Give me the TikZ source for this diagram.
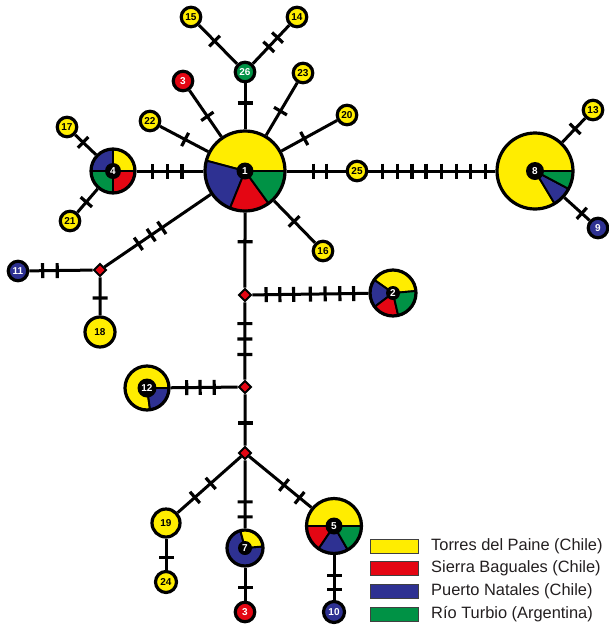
\documentclass[tikz,border=0pt]{standalone}
\usepackage{fontspec}
\setmainfont{Liberation Sans}
\usetikzlibrary{backgrounds,decorations.markings}
\definecolor{cY}{RGB}{255,237,0}
\definecolor{cR}{RGB}{228,6,19}
\definecolor{cB}{RGB}{46,49,146}
\definecolor{cG}{RGB}{0,146,69}
\definecolor{cT}{RGB}{35,31,32}
\newcommand\hapslice[5]{\filldraw[fill=#5,draw=black,line width=1.9pt,line join=round] (#1.center) -- ++({-(#3)}:#2) arc[start angle={-(#3)},end angle={-(#4)},radius=#2] -- cycle;}
\newcommand\hapring[2]{\draw[line width=3.2pt] (#1.center) circle[radius=#2];}
\tikzset{
  hap/.style={circle,draw=black,line width=3.2pt,inner sep=0pt,minimum size=19.5,font=\bfseries\fontsize{10}{10}\selectfont},
  hapY/.style={hap,fill=cY,text=black},
  hapR/.style={hap,fill=cR,text=white},
  hapB/.style={hap,fill=cB,text=white},
  hapG/.style={hap,fill=cG,text=white},
  piebase/.style={circle,line width=3.2pt,inner sep=0pt},
  lab/.style={circle,fill=black,text=white,inner sep=0pt,minimum size=16,font=\bfseries\fontsize{10}{10}\selectfont},
  dia/.style={rectangle,draw=black,fill=cR,line width=2pt,rotate=45,minimum size=8.5,inner sep=0pt},
  edge/.style={line width=3pt,draw=black},
  tk/.style={postaction={decorate,decoration={markings,mark=at position #1 with {\draw[line width=3.2pt] (0,-7.5) -- (0,7.5);}}}},
  legbox/.style={rectangle,draw=black!75,line width=0.8pt,minimum width=48,minimum height=14,inner sep=0pt},
  legtxt/.style={anchor=west,inner sep=0pt,text=cT,font=\fontsize{16.4}{18}\selectfont}
}
\begin{document}
\begin{tikzpicture}[x=1pt,y=-1pt]
\useasboundingbox (0,0) rectangle (609,625);
% pie nodes
\node[piebase,minimum size=80] (n1) at (245,171) {};
\hapslice{n1}{40}{0}{165}{cY}
\hapslice{n1}{40}{165}{248}{cB}
\hapslice{n1}{40}{248}{306}{cR}
\hapslice{n1}{40}{306}{360}{cG}
\hapring{n1}{40}
\node[lab,minimum size=17] (n1l) at (n1.center) {1};

\node[piebase,minimum size=44] (n4) at (113,171) {};
\hapslice{n4}{22}{0}{90}{cY}
\hapslice{n4}{22}{90}{180}{cB}
\hapslice{n4}{22}{180}{270}{cG}
\hapslice{n4}{22}{270}{360}{cR}
\hapring{n4}{22}
\node[lab] (n4l) at (n4.center) {4};

\node[piebase,minimum size=76] (n8) at (535,171) {};
\hapslice{n8}{38}{0}{301}{cY}
\hapslice{n8}{38}{301}{332}{cB}
\hapslice{n8}{38}{332}{360}{cG}
\hapring{n8}{38}
\node[lab,minimum size=18] (n8l) at (n8.center) {8};

\node[piebase,minimum size=46] (n2) at (393,293) {};
\hapslice{n2}{23}{5}{145}{cY}
\hapslice{n2}{23}{145}{217}{cB}
\hapslice{n2}{23}{217}{283}{cR}
\hapslice{n2}{23}{283}{365}{cG}
\hapring{n2}{23}
\node[lab,minimum size=14] (n2l) at (n2.center) {2};

\node[piebase,minimum size=44] (n12) at (147,388) {};
\hapslice{n12}{22}{0}{278}{cY}
\hapslice{n12}{22}{278}{360}{cB}
\hapring{n12}{22}
\node[lab,minimum size=19] (n12l) at (n12.center) {12};

\node[piebase,minimum size=36] (n7) at (245,548) {};
\hapslice{n7}{18}{105}{365}{cB}
\hapslice{n7}{18}{5}{105}{cY}
\hapring{n7}{18}
\node[lab,minimum size=14] (n7l) at (n7.center) {7};

\node[piebase,minimum size=55] (n5) at (334,526) {};
\hapslice{n5}{27.5}{0}{180}{cY}
\hapslice{n5}{27.5}{180}{236}{cR}
\hapslice{n5}{27.5}{236}{300}{cB}
\hapslice{n5}{27.5}{300}{360}{cG}
\hapring{n5}{27.5}
\node[lab,minimum size=17] (n5l) at (n5.center) {5};

% single haplotypes
\node[hapG] (n26) at (245,72) {26};
\node[hapY] (n15) at (191,17) {15};
\node[hapY] (n14) at (297,17) {14};
\node[hapR] (n3a) at (183,81) {3};
\node[hapY] (n23) at (303,73) {23};
\node[hapY] (n20) at (347,115) {20};
\node[hapY] (n22) at (150,121) {22};
\node[hapY] (n17) at (67,127) {17};
\node[hapY] (n21) at (70,221) {21};
\node[hapY] (n25) at (357,171) {25};
\node[hapY] (n13) at (593,110) {13};
\node[hapB] (n9) at (598,228) {9};
\node[hapY] (n16) at (323,251) {16};
\node[hapB] (n11) at (18,271) {11};
\node[hapY,minimum size=30] (n18) at (100,332) {18};
\node[hapY,minimum size=28] (n19) at (166,523) {19};
\node[hapY,minimum size=21] (n24) at (166,582) {24};
\node[hapR] (n3b) at (245,612) {3};
\node[hapB,minimum size=21] (n10) at (334,612) {10};

% median vectors
\node[dia] (dA) at (100,270) {};
\node[dia] (dB) at (245,295) {};
\node[dia] (dC) at (245,387) {};
\node[dia] (dD) at (245,453) {};

\begin{scope}[on background layer]
\fill[white] (0,0) rectangle (609,625);
\draw[edge,tk=0.574] (n1) -- (n26);
\draw[edge,tk=0.59] (n26) -- (n15);
\draw[edge,tk=0.44,tk=0.68] (n26) -- (n14);
\draw[edge,tk=0.44] (n1) -- (n3a);
\draw[edge,tk=0.48] (n1) -- (n22);
\draw[edge,tk=0.46] (n1) -- (n23);
\draw[edge,tk=0.41] (n1) -- (n20);
\draw[edge,tk=0.32,tk=0.54,tk=0.76] (n1) -- (n4);
\draw[edge,tk=0.62] (n4) -- (n17);
\draw[edge,tk=0.56] (n4) -- (n21);
\draw[edge,tk=0.45,tk=0.67] (n1) -- (n25);
\draw[edge,tk=0.109,tk=0.227,tk=0.344,tk=0.453,tk=0.578,tk=0.695,tk=0.805,tk=0.922] (n25) -- (n8);
\draw[edge,tk=0.56] (n8) -- (n13);
\draw[edge,tk=0.69] (n8) -- (n9);
\draw[edge,tk=0.49] (n1) -- (n16);
\draw[edge,tk=0.46,tk=0.56,tk=0.68] (n1) -- (dA);
\draw[edge,tk=0.56,tk=0.79] (dA) -- (n11);
\draw[edge,tk=0.54] (dA) -- (n18);
\draw[edge,tk=0.39] (n1) -- (dB);
\draw[edge,tk=0.119,tk=0.237,tk=0.356,tk=0.5,tk=0.627,tk=0.754,tk=0.873] (dB) -- (n2);
\draw[edge,tk=0.275,tk=0.475,tk=0.675] (dB) -- (dC);
\draw[edge,tk=0.35,tk=0.56,tk=0.76] (dC) -- (n12);
\draw[edge,tk=0.56] (dC) -- (dD);
\draw[edge,tk=0.48,tk=0.73] (dD) -- (n19);
\draw[edge,tk=0.61,tk=0.83] (dD) -- (n7);
\draw[edge,tk=0.56,tk=0.81] (dD) -- (n5);
\draw[edge,tk=0.61] (n19) -- (n24);
\draw[edge,tk=0.6] (n7) -- (n3b);
\draw[edge,tk=0.46,tk=0.76] (n5) -- (n10);
\end{scope}

% legend
\node[legbox,fill=cY] (lgY) at (394,546) {};
\node[legbox,fill=cR] (lgR) at (394,568) {};
\node[legbox,fill=cB] (lgB) at (394,591) {};
\node[legbox,fill=cG] (lgG) at (394,614) {};
\node[legtxt] (ltY) at (431,546) {Torres del Paine (Chile)};
\node[legtxt] (ltR) at (431,568) {Sierra Baguales (Chile)};
\node[legtxt] (ltB) at (431,591) {Puerto Natales (Chile)};
\node[legtxt] (ltG) at (431,614) {Río Turbio (Argentina)};
\end{tikzpicture}
\end{document}
